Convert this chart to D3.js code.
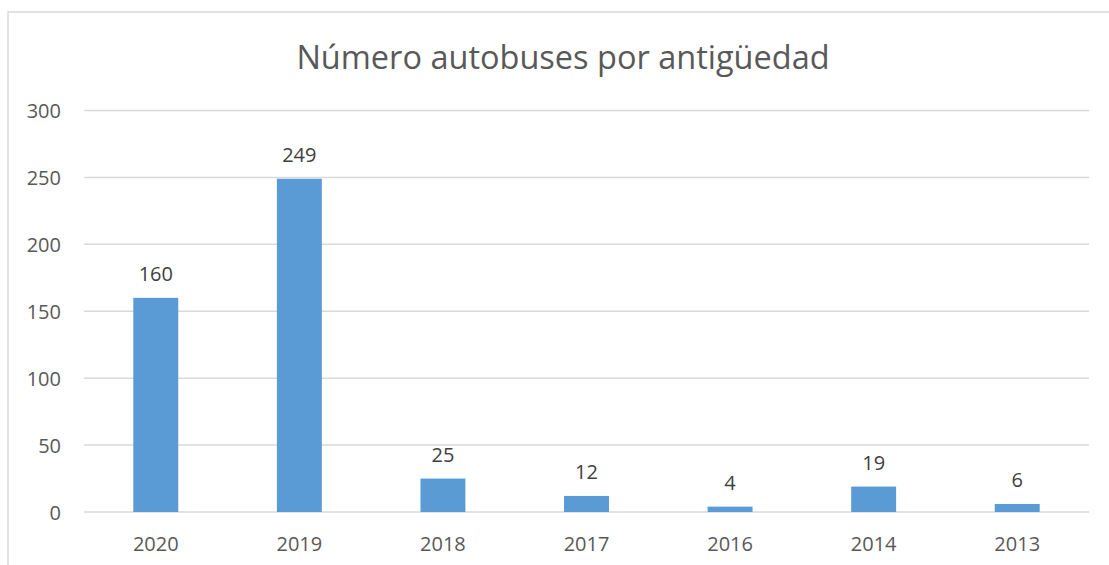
<!DOCTYPE html>
<html><head><meta charset="utf-8">
<script src="https://cdn.jsdelivr.net/npm/d3@7"></script>
<style>body{margin:0;background:#fff}svg{display:block}text{font-family:"Open Sans",sans-serif}</style>
</head><body>
<svg id="c" width="1109" height="565"></svg>
<script>
const categories = ["2020","2019","2018","2017","2016","2014","2013"];
const values = [160,249,25,12,4,19,6];
const yTicks = [0,50,100,150,200,250,300];
const title = "Número autobuses por antigüedad";

const svg = d3.select("#c");
// chart border
svg.append("rect").attr("x",8).attr("y",12).attr("width",1120).attr("height",580)
  .attr("fill","none").attr("stroke","#d9d9d9").attr("stroke-width",1.5);

const x = d3.scaleBand().domain(categories).range([84,1089]).paddingInner(0).paddingOuter(0);
const y = d3.scaleLinear().domain([0,300]).range([512,110.5]);
const bw = x.bandwidth()*0.313;

// gridlines
svg.append("g").selectAll("line").data(yTicks).join("line")
  .attr("x1",84).attr("x2",1089).attr("y1",d=>y(d)).attr("y2",d=>y(d))
  .attr("stroke","#d9d9d9").attr("stroke-width",1.5);

// y axis labels
const yAxis = d3.axisLeft(y).tickValues(yTicks).tickSize(0).tickPadding(0);
const ga = svg.append("g").attr("transform","translate(61,0)").call(yAxis);
ga.select(".domain").remove();
ga.selectAll("text").attr("fill","#595959").style("font-size","20px").style("font-family","'Open Sans',sans-serif").attr("dy","0.35em");

// x axis labels
const xAxis = d3.axisBottom(x).tickSize(0).tickPadding(0);
const gx = svg.append("g").attr("transform","translate(0,512)").call(xAxis);
gx.select(".domain").remove();
gx.selectAll("text").attr("fill","#595959").style("font-size","20px").style("font-family","'Open Sans',sans-serif").attr("dy",null).attr("y",39);

// bars
svg.append("g").selectAll("rect").data(values).join("rect")
  .attr("x",(d,i)=>x(categories[i])+x.bandwidth()/2-bw/2)
  .attr("width",bw)
  .attr("y",d=>y(d)).attr("height",d=>y(0)-y(d))
  .attr("fill","#5b9bd5");

// data labels
svg.append("g").selectAll("text").data(values).join("text")
  .attr("x",(d,i)=>x(categories[i])+x.bandwidth()/2)
  .attr("y",d=>y(d)-17)
  .attr("text-anchor","middle").attr("fill","#404040")
  .style("font-size","20px").text(d=>d);

// title
svg.append("text").attr("x",563).attr("y",69).attr("text-anchor","middle")
  .attr("fill","#595959").style("font-size","32.5px").text(title);
</script>
</body></html>
